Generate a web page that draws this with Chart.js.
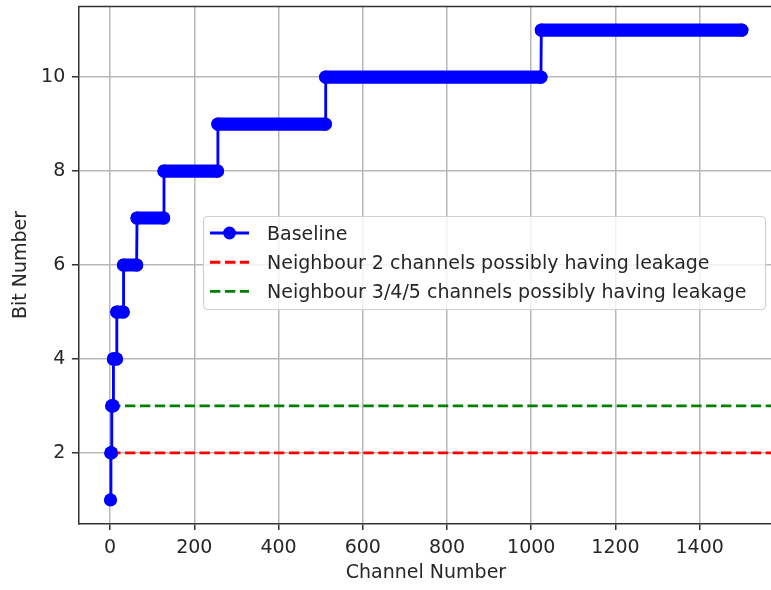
<!DOCTYPE html>
<html>
<head>
<meta charset="utf-8">
<script src="https://cdn.jsdelivr.net/npm/chart.js@4.4.1/dist/chart.umd.min.js"></script>
<style>
  html, body { margin: 0; padding: 0; background: #fff; overflow: hidden; }
  #wrap { position: relative; width: 780px; height: 590px; }
</style>
</head>
<body>
<div id="wrap"><canvas id="bitChart"></canvas></div>
<script>
// Baseline: runs of channels that share the same bit number
const runBits  = [1, 2, 3, 4, 5, 6, 7, 8, 9, 10, 11];
const runStart = [1, 2, 4, 8, 16, 32, 64, 128, 256, 512, 1024];
const runEnd   = [1, 3, 7, 15, 31, 63, 127, 255, 511, 1023, 1500];

// leakage thresholds (horizontal dashed lines)
const refLevels = [2, 3];
const refLabels = ['Neighbour 2 channels possibly having leakage', 'Neighbour 3/4/5 channels possibly having leakage'];
const refRange  = [0, 1575];

const xTicks = [0, 200, 400, 600, 800, 1000, 1200, 1400];
const yTicks = [2, 4, 6, 8, 10];

const PX = 1.9; // px per pt, the reference was drawn at ~137 dpi
const textColor = '#262626';

Chart.defaults.font.family = '"DejaVu Sans", sans-serif';
Chart.defaults.font.size = 19;
Chart.defaults.color = textColor;

// build the baseline points, start + end of each run
const basePoints = [];
runBits.forEach((b, i) => {
    basePoints.push({ x: runStart[i], y: b });
    if (runEnd[i] !== runStart[i]) basePoints.push({ x: runEnd[i], y: b });
});

const refColors = ['#ff0000', '#008000'];
const refDatasets = refLevels.map((lvl, i) => ({
    label: refLabels[i],
    data: refRange.map(x => ({ x: x, y: lvl })),
    borderColor: refColors[i],
    borderWidth: 1.5 * PX,
    borderDash: [10.4, 4.5],
    pointRadius: 0,
    order: 1 + i
}));

// top / right spines (left and bottom come from the scales)
const frame = {
    id: 'frame',
    afterDatasetsDraw(chart) {
        const { ctx, chartArea: a } = chart;
        ctx.save();
        ctx.strokeStyle = '#333';
        ctx.lineWidth = 0.8 * PX;
        ctx.beginPath();
        ctx.moveTo(a.left, a.top);
        ctx.lineTo(a.right, a.top);
        ctx.lineTo(a.right, a.bottom);
        ctx.stroke();
        ctx.restore();
    }
};

// matplotlib-like legend box sitting inside the plot
const legendBox = {
    id: 'legendBox',
    afterDraw(chart) {
        const ctx = chart.ctx;
        ctx.save();
        ctx.beginPath();
        ctx.roundRect(203.5, 216.5, 562, 93, 4);
        ctx.fillStyle = 'rgba(255,255,255,0.8)';
        ctx.fill();
        ctx.strokeStyle = '#d0d0d0';
        ctx.lineWidth = 1.2;
        ctx.stroke();

        ctx.font = '19px "DejaVu Sans"';
        ctx.textBaseline = 'alphabetic';
        chart.data.datasets.forEach((ds, i) => {
            const base = 240 + i * 29.2;
            const mid = base - 7;
            ctx.strokeStyle = ds.borderColor;
            ctx.lineWidth = 1.5 * PX;
            ctx.setLineDash(i === 0 ? [] : [10.4, 4.5]);
            ctx.beginPath();
            ctx.moveTo(210, mid);
            ctx.lineTo(249, mid);
            ctx.stroke();
            ctx.setLineDash([]);
            if (i === 0) {
                ctx.fillStyle = ds.borderColor;
                ctx.beginPath();
                ctx.arc(229.5, mid, 6.4, 0, Math.PI * 2);
                ctx.fill();
            }
            ctx.fillStyle = textColor;
            ctx.fillText(ds.label, 267, base);
        });
        ctx.restore();
    }
};

const ctx = document.getElementById('bitChart').getContext('2d');
new Chart(ctx, {
    type: 'line',
    data: {
        datasets: [
            {
                label: 'Baseline',
                data: basePoints,
                borderColor: '#0000ff',
                backgroundColor: '#0000ff',
                borderWidth: 1.5 * PX,
                borderCapStyle: 'round',
                pointRadius: 6.6,
                pointBorderWidth: 0,
                pointBackgroundColor: '#0000ff',
                segment: {
                    // dense markers merge into a thick bar on flat runs
                    borderWidth: c => c.p0.parsed.y === c.p1.parsed.y ? 13.2 : 1.5 * PX
                },
                order: 0
            },
            ...refDatasets
        ]
    },
    options: {
        responsive: true,
        maintainAspectRatio: false,
        animation: false,
        events: [],
        layout: { padding: { left: 0, top: 2, right: 3.2, bottom: 0 } },
        plugins: {
            legend: { display: false },
            tooltip: { enabled: false }
        },
        scales: {
            x: {
                type: 'linear',
                min: -75,
                max: 1575,
                afterBuildTicks: axis => { axis.ticks = xTicks.map(v => ({ value: v })); },
                afterFit: axis => {
                    axis.height = 66.6;
                    axis.paddingLeft = 0;
                    axis.paddingRight = 0;
                },
                grid: {
                    color: '#b8b8b8',
                    lineWidth: 0.8 * PX,
                    tickLength: 6.6,
                    tickColor: '#333',
                    tickWidth: 0.8 * PX
                },
                border: { color: '#333', width: 0.8 * PX },
                ticks: { padding: 6.6, maxRotation: 0, color: textColor, callback: v => String(v) },
                title: {
                    display: true,
                    text: 'Channel Number',
                    color: textColor,
                    padding: { top: 0, bottom: 5.2 }
                }
            },
            y: {
                type: 'linear',
                min: 0.5,
                max: 11.5,
                afterBuildTicks: axis => { axis.ticks = yTicks.map(v => ({ value: v })); },
                afterFit: axis => {
                    axis.width = 78.5;
                    axis.paddingTop = 0;
                    axis.paddingBottom = 0;
                },
                grid: {
                    color: '#b8b8b8',
                    lineWidth: 0.8 * PX,
                    tickLength: 6.6,
                    tickColor: '#333',
                    tickWidth: 0.8 * PX
                },
                border: { color: '#333', width: 0.8 * PX },
                ticks: { padding: 6.6, color: textColor, callback: v => String(v) },
                title: {
                    display: true,
                    text: 'Bit Number',
                    color: textColor,
                    padding: { top: 9.8, bottom: 0 }
                }
            }
        }
    },
    plugins: [frame, legendBox]
});
</script>
</body>
</html>
